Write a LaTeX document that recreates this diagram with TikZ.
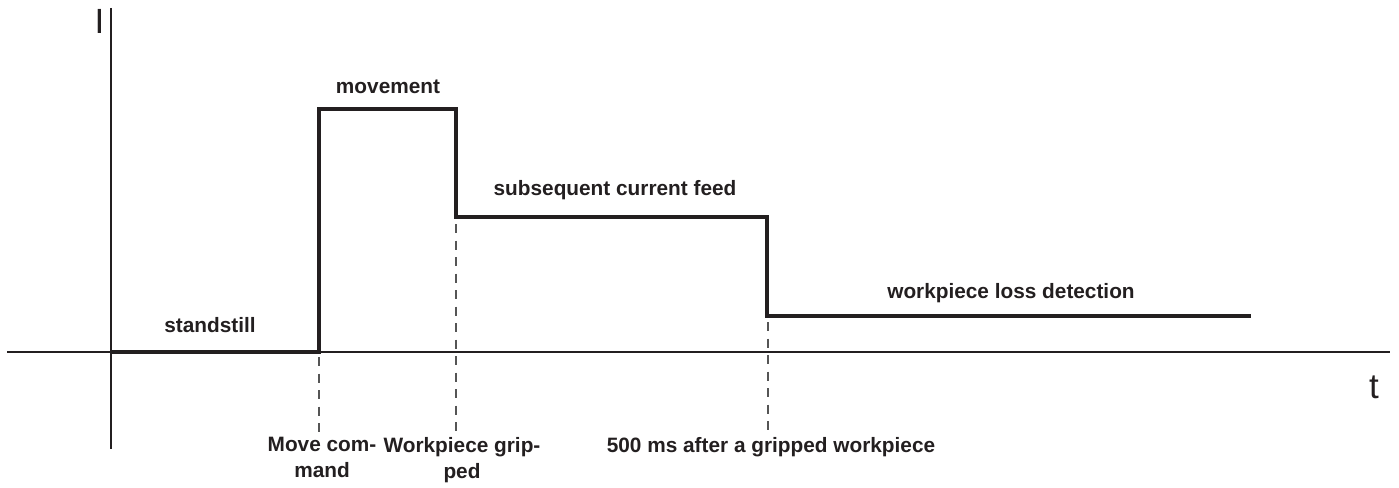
\documentclass[tikz,border=0pt]{standalone}
\usepackage{fontspec}
\setmainfont{Liberation Sans}
\definecolor{ink}{HTML}{231F20}
\definecolor{dashgray}{HTML}{555555}
\tikzset{
  axisline/.style={draw=ink, line width=2pt},
  signal/.style={draw=ink, line width=3.6pt, line join=miter},
  marker/.style={draw=dashgray, line width=1.3pt, dash pattern=on 9pt off 7.5pt},
  phase/.style={font=\fontsize{20.8}{24}\selectfont\bfseries, text=ink, inner sep=0pt},
  evt/.style={font=\fontsize{20.8}{26}\selectfont\bfseries, text=ink, inner sep=0pt, align=center, anchor=north},
  axlabel/.style={font=\fontsize{35}{40}\selectfont, text=ink, inner sep=0pt}
}
\begin{document}
\begin{tikzpicture}[x=1pt,y=-1pt]
\useasboundingbox (0,0) rectangle (1399,487);
% axes
\coordinate (ytop) at (111,8);
\coordinate (ybot) at (111,449);
\coordinate (xl) at (7,352);
\coordinate (xr) at (1390,352);
\draw[axisline] (ytop) -- (ybot);
\draw[axisline] (xl) -- (xr);
\node[axlabel] (I) at (99.5,21) {I};
\node[axlabel] (t) at (1374,387) {t};
% signal
\coordinate (s0) at (111,352);
\coordinate (s1) at (319,352);
\coordinate (s2) at (319,109);
\coordinate (s3) at (456,109);
\coordinate (s4) at (456,217);
\coordinate (s5) at (767,217);
\coordinate (s6) at (767,316);
\coordinate (s7) at (1251,316);
\draw[signal] (s0) -- (s1) -- (s2) -- (s3) -- (s4) -- (s5) -- (s6) -- (s7);
% markers
\coordinate (m1a) at (319,357);
\coordinate (m1b) at (319,432);
\coordinate (m2a) at (456,224);
\coordinate (m2b) at (456,432);
\coordinate (m3a) at (768,322);
\coordinate (m3b) at (768,432);
\draw[marker] (m1a) -- (m1b);
\draw[marker] (m2a) -- (m2b);
\draw[marker] (m3a) -- (m3b);
% phase labels
\node[phase] (standstill) at (210,325) {standstill};
\node[phase] (movement) at (388,87) {movement};
\node[phase] (feed) at (615,190) {subsequent current feed};
\node[phase] (loss) at (1011,293) {workpiece loss detection};
% event labels
\node[evt] (move) at (322,437) {Move com-\\mand};
\node[evt] (grip) at (462,437) {Workpiece grip-\\ped};
\node[evt] (ms) at (771,437) {500 ms after a gripped workpiece};
\end{tikzpicture}
\end{document}
